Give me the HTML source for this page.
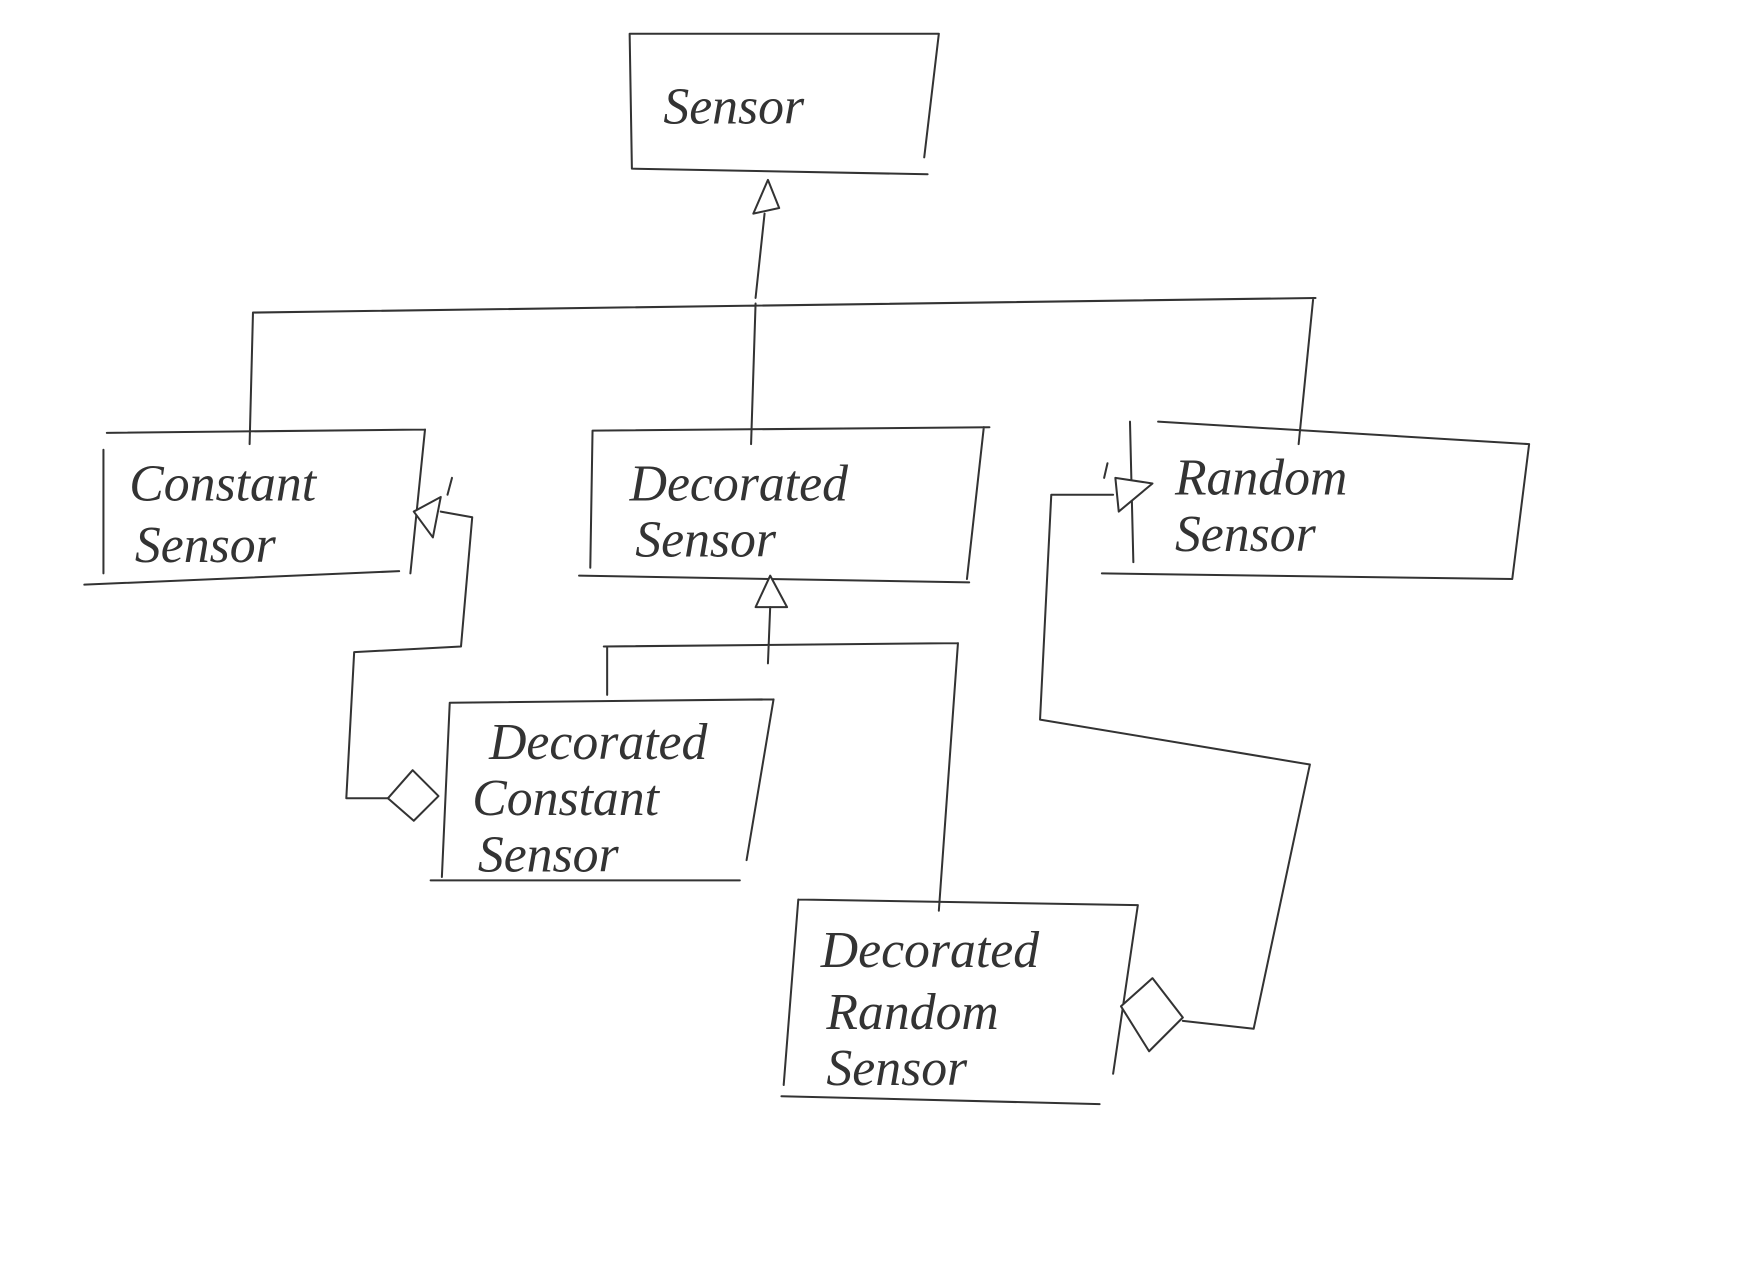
<!DOCTYPE html>
<html><head><meta charset="utf-8"><style>
html,body{margin:0;padding:0;background:#fff;width:1754px;height:1275px;overflow:hidden}
svg{display:block}
text{font-family:"Liberation Serif",serif;font-style:italic;fill:#333;font-size:46px}
</style></head><body>
<svg width="1754" height="1275" viewBox="0 0 1560 1134" preserveAspectRatio="none" xmlns="http://www.w3.org/2000/svg">
<g fill="none" stroke="#333" stroke-width="1.8" stroke-linecap="round" stroke-linejoin="round">
<!-- Sensor -->
<path d="M560 30 L835 30 M560 30 L562 150 M562 150 L825 155 M835 30 L822 140"/>
<!-- generalization to Sensor -->
<path d="M672 265 L680 190"/>
<path d="M670 190 L683 160 L693 185 Z" fill="#fff"/>
<path d="M225 278 L1170 265 M225 278 L222 395 M672 270 L668 395 M1168 265 L1155 395"/>
<!-- Constant Sensor -->
<path d="M95 385 L378 382 M92 400 L92 510 M75 520 L355 508 M378 382 L365 510"/>
<!-- Decorated Sensor -->
<path d="M527 383 L880 380 M527 383 L525 505 M515 512 L862 518 M875 380 L860 515"/>
<!-- Random Sensor -->
<path d="M1030 375 L1360 395 M1005 375 L1008 500 M980 510 L1345 515 M1360 395 L1345 515"/>
<!-- generalization to Decorated Sensor -->
<path d="M672 540 L685 512 L700 540 Z" fill="#fff"/>
<path d="M685 540 L683 590 M537 575 L852 572 M540 575 L540 618 M852 572 L835 810"/>
<!-- Decorated Constant Sensor -->
<path d="M400 625 L688 622 M400 625 L393 780 M383 783 L658 783 M688 622 L664 765"/>
<!-- Decorated Random Sensor -->
<path d="M710 800 L1012 805 M710 800 L697 965 M695 975 L978 982 M1012 805 L990 955"/>
<!-- constant aggregation -->
<path d="M345 710 L367 685 L390 708 L368 730 Z" fill="#fff"/>
<path d="M345 710 L308 710 L315 580 L410 575 L420 460 L392 455"/>
<path d="M368 455 L392 442 L385 478 Z" fill="#fff"/>
<path d="M398 440 L402 425"/>
<!-- random aggregation -->
<path d="M997 895 L1025 870 L1052 905 L1022 935 Z" fill="#fff"/>
<path d="M1052 908 L1115 915 L1165 680 L925 640 L935 440 L990 440"/>
<path d="M992 425 L1025 430 L995 455 Z" fill="#fff"/>
<path d="M982 425 L985 412"/>
</g>
<text x="590" y="110">Sensor</text>
<text x="115" y="445">Constant</text>
<text x="120" y="500">Sensor</text>
<text x="560" y="445">Decorated</text>
<text x="565" y="495">Sensor</text>
<text x="1045" y="440">Random</text>
<text x="1045" y="490">Sensor</text>
<text x="435" y="675">Decorated</text>
<text x="420" y="725">Constant</text>
<text x="425" y="775">Sensor</text>
<text x="730" y="860">Decorated</text>
<text x="735" y="915">Random</text>
<text x="735" y="965">Sensor</text>
</svg>
</body></html>
